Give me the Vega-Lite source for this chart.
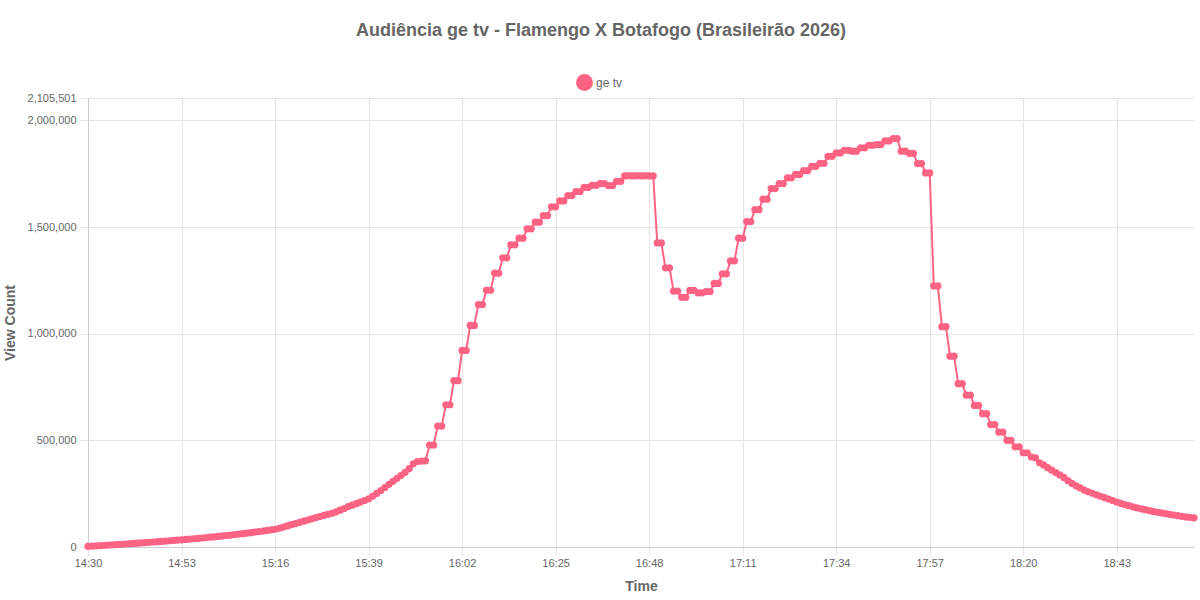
{
  "$schema": "https://vega.github.io/schema/vega-lite/v6.json",
  "autosize": {"type": "none"},
  "width": 1106,
  "height": 449,
  "padding": {"left": 88, "top": 98, "right": 6, "bottom": 53},
  "background": "white",
  "title": {
    "text": "Audiência ge tv - Flamengo X Botafogo (Brasileirão 2026)",
    "fontSize": 18,
    "fontWeight": "bold",
    "color": "#666666",
    "font": "Liberation Sans",
    "anchor": "middle",
    "dx": -40,
    "offset": 34
  },
  "datasets": {
    "views": [
      {"t": "14:30", "v": 3000}, {"t": "14:31", "v": 4200}, {"t": "14:32", "v": 5400}, {"t": "14:33", "v": 6600},
      {"t": "14:34", "v": 7800}, {"t": "14:35", "v": 9000}, {"t": "14:36", "v": 10250}, {"t": "14:37", "v": 11500},
      {"t": "14:38", "v": 12750}, {"t": "14:39", "v": 14000}, {"t": "14:40", "v": 15300}, {"t": "14:41", "v": 16600},
      {"t": "14:42", "v": 17900}, {"t": "14:43", "v": 19250}, {"t": "14:44", "v": 20600}, {"t": "14:45", "v": 22000},
      {"t": "14:46", "v": 23400}, {"t": "14:47", "v": 24850}, {"t": "14:48", "v": 26300}, {"t": "14:49", "v": 27800},
      {"t": "14:50", "v": 29300}, {"t": "14:51", "v": 30800}, {"t": "14:52", "v": 32300}, {"t": "14:53", "v": 33800},
      {"t": "14:54", "v": 35400}, {"t": "14:55", "v": 37000}, {"t": "14:56", "v": 38700}, {"t": "14:57", "v": 40400},
      {"t": "14:58", "v": 42200}, {"t": "14:59", "v": 44000}, {"t": "15:00", "v": 45900}, {"t": "15:01", "v": 47800},
      {"t": "15:02", "v": 49800}, {"t": "15:03", "v": 51800}, {"t": "15:04", "v": 53900}, {"t": "15:05", "v": 56000},
      {"t": "15:06", "v": 58200}, {"t": "15:07", "v": 60400}, {"t": "15:08", "v": 62700}, {"t": "15:09", "v": 65000},
      {"t": "15:10", "v": 67400}, {"t": "15:11", "v": 69800}, {"t": "15:12", "v": 72300}, {"t": "15:13", "v": 74900},
      {"t": "15:14", "v": 77600}, {"t": "15:15", "v": 80400}, {"t": "15:16", "v": 83300}, {"t": "15:17", "v": 88000},
      {"t": "15:18", "v": 93500}, {"t": "15:19", "v": 99000}, {"t": "15:20", "v": 104500}, {"t": "15:21", "v": 110000},
      {"t": "15:22", "v": 115500}, {"t": "15:23", "v": 121000}, {"t": "15:24", "v": 126500}, {"t": "15:25", "v": 132000},
      {"t": "15:26", "v": 137500}, {"t": "15:27", "v": 143000}, {"t": "15:28", "v": 148400}, {"t": "15:29", "v": 153200},
      {"t": "15:30", "v": 158000}, {"t": "15:31", "v": 165000}, {"t": "15:32", "v": 172500}, {"t": "15:33", "v": 180500},
      {"t": "15:34", "v": 189000}, {"t": "15:35", "v": 196000}, {"t": "15:36", "v": 203000}, {"t": "15:37", "v": 210500},
      {"t": "15:38", "v": 218000}, {"t": "15:39", "v": 226000}, {"t": "15:40", "v": 238000}, {"t": "15:41", "v": 251000},
      {"t": "15:42", "v": 264500}, {"t": "15:43", "v": 279000}, {"t": "15:44", "v": 294000}, {"t": "15:45", "v": 308000},
      {"t": "15:46", "v": 322000}, {"t": "15:47", "v": 336000}, {"t": "15:48", "v": 350000}, {"t": "15:49", "v": 368000},
      {"t": "15:50", "v": 390000}, {"t": "15:51", "v": 401000}, {"t": "15:52", "v": 403000}, {"t": "15:53", "v": 404000},
      {"t": "15:54", "v": 478000}, {"t": "15:55", "v": 478000}, {"t": "15:56", "v": 567000}, {"t": "15:57", "v": 567000},
      {"t": "15:58", "v": 667000}, {"t": "15:59", "v": 667000}, {"t": "16:00", "v": 780000}, {"t": "16:01", "v": 780000},
      {"t": "16:02", "v": 922000}, {"t": "16:03", "v": 922000}, {"t": "16:04", "v": 1039000}, {"t": "16:05", "v": 1039000},
      {"t": "16:06", "v": 1137000}, {"t": "16:07", "v": 1137000}, {"t": "16:08", "v": 1204000}, {"t": "16:09", "v": 1204000},
      {"t": "16:10", "v": 1284000}, {"t": "16:11", "v": 1284000}, {"t": "16:12", "v": 1356000}, {"t": "16:13", "v": 1356000},
      {"t": "16:14", "v": 1417000}, {"t": "16:15", "v": 1417000}, {"t": "16:16", "v": 1448000}, {"t": "16:17", "v": 1448000},
      {"t": "16:18", "v": 1492000}, {"t": "16:19", "v": 1492000}, {"t": "16:20", "v": 1523000}, {"t": "16:21", "v": 1523000},
      {"t": "16:22", "v": 1554000}, {"t": "16:23", "v": 1554000}, {"t": "16:24", "v": 1595000}, {"t": "16:25", "v": 1595000},
      {"t": "16:26", "v": 1623000}, {"t": "16:27", "v": 1623000}, {"t": "16:28", "v": 1648000}, {"t": "16:29", "v": 1648000},
      {"t": "16:30", "v": 1667000}, {"t": "16:31", "v": 1667000}, {"t": "16:32", "v": 1686000}, {"t": "16:33", "v": 1686000},
      {"t": "16:34", "v": 1696000}, {"t": "16:35", "v": 1696000}, {"t": "16:36", "v": 1704000}, {"t": "16:37", "v": 1704000},
      {"t": "16:38", "v": 1695000}, {"t": "16:39", "v": 1695000}, {"t": "16:40", "v": 1715000}, {"t": "16:41", "v": 1715000},
      {"t": "16:42", "v": 1740000}, {"t": "16:43", "v": 1741000}, {"t": "16:44", "v": 1740000}, {"t": "16:45", "v": 1741000},
      {"t": "16:46", "v": 1740000}, {"t": "16:47", "v": 1741000}, {"t": "16:48", "v": 1740000}, {"t": "16:49", "v": 1740000},
      {"t": "16:50", "v": 1426000}, {"t": "16:51", "v": 1426000}, {"t": "16:52", "v": 1309000}, {"t": "16:53", "v": 1309000},
      {"t": "16:54", "v": 1200000}, {"t": "16:55", "v": 1200000}, {"t": "16:56", "v": 1171000}, {"t": "16:57", "v": 1171000},
      {"t": "16:58", "v": 1203000}, {"t": "16:59", "v": 1203000}, {"t": "17:00", "v": 1192000}, {"t": "17:01", "v": 1192000},
      {"t": "17:02", "v": 1198000}, {"t": "17:03", "v": 1198000}, {"t": "17:04", "v": 1236000}, {"t": "17:05", "v": 1236000},
      {"t": "17:06", "v": 1281000}, {"t": "17:07", "v": 1281000}, {"t": "17:08", "v": 1342000}, {"t": "17:09", "v": 1342000},
      {"t": "17:10", "v": 1448000}, {"t": "17:11", "v": 1448000}, {"t": "17:12", "v": 1526000}, {"t": "17:13", "v": 1526000},
      {"t": "17:14", "v": 1582000}, {"t": "17:15", "v": 1582000}, {"t": "17:16", "v": 1631000}, {"t": "17:17", "v": 1631000},
      {"t": "17:18", "v": 1681000}, {"t": "17:19", "v": 1681000}, {"t": "17:20", "v": 1704000}, {"t": "17:21", "v": 1704000},
      {"t": "17:22", "v": 1731000}, {"t": "17:23", "v": 1731000}, {"t": "17:24", "v": 1747000}, {"t": "17:25", "v": 1747000},
      {"t": "17:26", "v": 1765000}, {"t": "17:27", "v": 1765000}, {"t": "17:28", "v": 1785000}, {"t": "17:29", "v": 1785000},
      {"t": "17:30", "v": 1799000}, {"t": "17:31", "v": 1799000}, {"t": "17:32", "v": 1832000}, {"t": "17:33", "v": 1832000},
      {"t": "17:34", "v": 1848000}, {"t": "17:35", "v": 1848000}, {"t": "17:36", "v": 1860000}, {"t": "17:37", "v": 1860000},
      {"t": "17:38", "v": 1856000}, {"t": "17:39", "v": 1856000}, {"t": "17:40", "v": 1872000}, {"t": "17:41", "v": 1872000},
      {"t": "17:42", "v": 1884000}, {"t": "17:43", "v": 1884000}, {"t": "17:44", "v": 1887000}, {"t": "17:45", "v": 1887000},
      {"t": "17:46", "v": 1904000}, {"t": "17:47", "v": 1904000}, {"t": "17:48", "v": 1915000}, {"t": "17:49", "v": 1915000},
      {"t": "17:50", "v": 1856000}, {"t": "17:51", "v": 1856000}, {"t": "17:52", "v": 1846000}, {"t": "17:53", "v": 1846000},
      {"t": "17:54", "v": 1798000}, {"t": "17:55", "v": 1798000}, {"t": "17:56", "v": 1754000}, {"t": "17:57", "v": 1754000},
      {"t": "17:58", "v": 1224000}, {"t": "17:59", "v": 1224000}, {"t": "18:00", "v": 1033000}, {"t": "18:01", "v": 1033000},
      {"t": "18:02", "v": 895000}, {"t": "18:03", "v": 895000}, {"t": "18:04", "v": 766000}, {"t": "18:05", "v": 766000},
      {"t": "18:06", "v": 712000}, {"t": "18:07", "v": 712000}, {"t": "18:08", "v": 664000}, {"t": "18:09", "v": 664000},
      {"t": "18:10", "v": 625000}, {"t": "18:11", "v": 625000}, {"t": "18:12", "v": 574000}, {"t": "18:13", "v": 574000},
      {"t": "18:14", "v": 539000}, {"t": "18:15", "v": 539000}, {"t": "18:16", "v": 500000}, {"t": "18:17", "v": 500000},
      {"t": "18:18", "v": 470000}, {"t": "18:19", "v": 470000}, {"t": "18:20", "v": 442000}, {"t": "18:21", "v": 442000},
      {"t": "18:22", "v": 422000}, {"t": "18:23", "v": 418000}, {"t": "18:24", "v": 395000}, {"t": "18:25", "v": 385000},
      {"t": "18:26", "v": 372000}, {"t": "18:27", "v": 360000}, {"t": "18:28", "v": 349000}, {"t": "18:29", "v": 338000},
      {"t": "18:30", "v": 326000}, {"t": "18:31", "v": 311000}, {"t": "18:32", "v": 298000}, {"t": "18:33", "v": 287000},
      {"t": "18:34", "v": 277000}, {"t": "18:35", "v": 267000}, {"t": "18:36", "v": 259000}, {"t": "18:37", "v": 252000},
      {"t": "18:38", "v": 245000}, {"t": "18:39", "v": 238000}, {"t": "18:40", "v": 232000}, {"t": "18:41", "v": 225000},
      {"t": "18:42", "v": 218000}, {"t": "18:43", "v": 211000}, {"t": "18:44", "v": 205000}, {"t": "18:45", "v": 199000},
      {"t": "18:46", "v": 194000}, {"t": "18:47", "v": 188000}, {"t": "18:48", "v": 183000}, {"t": "18:49", "v": 179000},
      {"t": "18:50", "v": 175000}, {"t": "18:51", "v": 171000}, {"t": "18:52", "v": 167000}, {"t": "18:53", "v": 163000},
      {"t": "18:54", "v": 160000}, {"t": "18:55", "v": 157000}, {"t": "18:56", "v": 153000}, {"t": "18:57", "v": 150000},
      {"t": "18:58", "v": 147000}, {"t": "18:59", "v": 144000}, {"t": "19:00", "v": 141000}, {"t": "19:01", "v": 139000},
      {"t": "19:02", "v": 137000}
    ]
  },
  "data": {"name": "views"},
  "encoding": {
    "x": {
      "field": "t",
      "type": "ordinal",
      "title": "Time",
      "scale": {"type": "point", "padding": 0},
      "axis": {
        "values": ["14:30", "14:53", "15:16", "15:39", "16:02", "16:25", "16:48", "17:11", "17:34", "17:57", "18:20", "18:43"],
        "labelAngle": 0,
        "grid": true,
        "labelPadding": 2,
        "titlePadding": 11
      }
    },
    "y": {
      "field": "v",
      "type": "quantitative",
      "title": "View Count",
      "scale": {"domain": [0, 2105501], "nice": false},
      "axis": {
        "values": [0, 500000, 1000000, 1500000, 2000000, 2105501],
        "format": ",d",
        "grid": true,
        "labelPadding": 4,
        "titlePadding": 10
      }
    }
  },
  "layer": [
    {
      "mark": {"type": "line", "color": "#ff6384", "strokeWidth": 2}
    },
    {
      "mark": {"type": "point", "filled": true, "opacity": 1, "size": 52, "shape": "circle"},
      "encoding": {
        "color": {
          "datum": "ge tv",
          "scale": {"range": ["#ff6384"]},
          "legend": {
            "title": null,
            "orient": "none",
            "legendX": 488,
            "legendY": -24,
            "direction": "horizontal",
            "symbolType": "circle",
            "symbolSize": 283,
            "symbolStrokeWidth": 0,
            "symbolOpacity": 1,
            "labelFontSize": 12,
            "labelColor": "#666666",
            "labelFont": "Liberation Sans",
            "labelOffset": 3,
            "padding": 0
          }
        }
      }
    }
  ],
  "config": {
    "view": {"stroke": null},
    "axis": {
      "labelFont": "Liberation Sans",
      "labelFontSize": 11,
      "labelColor": "#666666",
      "titleFont": "Liberation Sans",
      "titleFontSize": 14,
      "titleFontWeight": "bold",
      "titleColor": "#666666",
      "gridColor": "#e5e5e5",
      "gridOpacity": 1,
      "tickColor": "#e5e5e5",
      "tickSize": 8,
      "domainColor": "#cccccc"
    }
  }
}
